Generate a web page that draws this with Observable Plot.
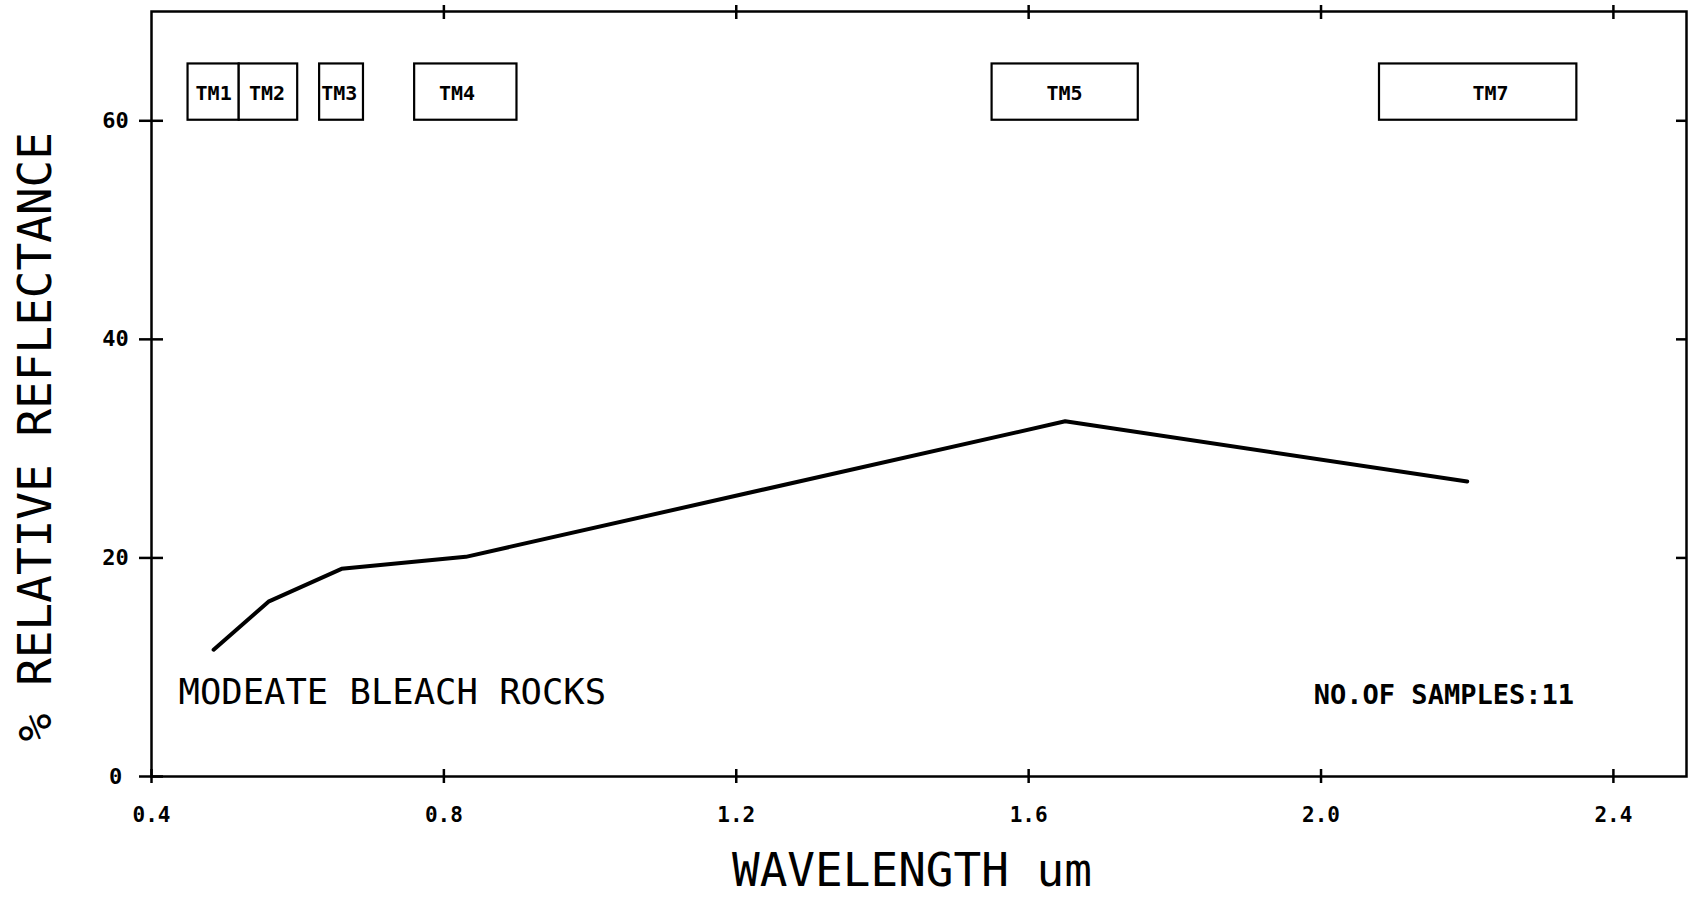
<!DOCTYPE html>
<html><head><meta charset="utf-8">
<script src="https://cdn.jsdelivr.net/npm/d3@7"></script>
<script src="https://cdn.jsdelivr.net/npm/@observablehq/plot@0.6"></script>
<style>html,body{margin:0;padding:0;background:#fff;} svg{display:block}</style>
</head><body><div id="chart"></div>
<script>
// Spectrum (Landsat TM band centres, % relative reflectance)
const wavelength = [0.485, 0.56, 0.66, 0.83, 1.65, 2.2];
const reflectance = [11.6, 16.0, 19.0, 20.1, 32.5, 27.0];
// Band boxes
const bandNames = ["TM1", "TM2", "TM3", "TM4", "TM5", "TM7"];
const bandStart = [0.45, 0.52, 0.63, 0.76, 1.55, 2.08];
const bandEnd = [0.52, 0.60, 0.69, 0.90, 1.75, 2.35];
const bandLabelX = [0.485, 0.558, 0.657, 0.818, 1.649, 2.232];
const boxBottom = 60.05, boxTop = 65.2, bandLabelY = 62.5;
// Axes
const xTicks = [0.4, 0.8, 1.2, 1.6, 2.0, 2.4];
const xTickLabels = ["0.4", "0.8", "1.2", "1.6", "2.0", "2.4"];
const yTicks = [0, 20, 40, 60];
const yTickLabels = ["0", "20", "40", "60"];
const xDomain = [0.4, 2.5];
const yDomain = [0, 70];
// Texts
const sampleName = "MODEATE BLEACH ROCKS";
const sampleCount = "NO.OF SAMPLES:11";
const xTitle = "WAVELENGTH um";
const yTitle = "% RELATIVE REFLECTANCE";

const spectrum = wavelength.map((w, i) => ({w, r: reflectance[i]}));
const bands = bandNames.map((name, i) => ({name, x1: bandStart[i], x2: bandEnd[i], lx: bandLabelX[i]}));
const FONT = "DejaVu Sans Mono";
const xFmt = d => xTickLabels[xTicks.indexOf(d)];
const yFmt = d => yTickLabels[yTicks.indexOf(d)];

const chart = Plot.plot({
  width: 1689,
  height: 898,
  marginLeft: 151,
  marginRight: 3,
  marginTop: 11,
  marginBottom: 122,
  style: {fontFamily: FONT, color: "black", background: "white"},
  x: {domain: xDomain},
  y: {domain: yDomain},
  marks: [
    Plot.frame({stroke: "black", strokeWidth: 2.5}),
    // bottom axis: crossing ticks
    Plot.axisX(xTicks, {anchor: "bottom", tickSize: 7, tickPadding: 24, tickFormat: xFmt, fontSize: 21, fontWeight: "bold", label: null, strokeWidth: 2.5}),
    Plot.axisX(xTicks, {anchor: "bottom", tickSize: -7, tickFormat: () => "", label: null, strokeWidth: 2.5}),
    // top axis: crossing ticks
    Plot.axisX(xTicks.slice(1), {anchor: "top", tickSize: 7, tickFormat: () => "", label: null, strokeWidth: 2.5}),
    Plot.axisX(xTicks.slice(1), {anchor: "top", tickSize: -7, tickFormat: () => "", label: null, strokeWidth: 2.5}),
    // left axis
    Plot.axisY(yTicks, {anchor: "left", tickSize: 12, tickPadding: 24, textAnchor: "middle", tickFormat: yFmt, fontSize: 22, fontWeight: "bold", label: null, strokeWidth: 2.5}),
    Plot.axisY(yTicks, {anchor: "left", tickSize: -12, tickFormat: () => "", label: null, strokeWidth: 2.5}),
    // right axis (inward ticks)
    Plot.axisY(yTicks.slice(1), {anchor: "right", tickSize: -11, tickFormat: () => "", label: null, strokeWidth: 2.5}),
    // band boxes
    Plot.rect(bands, {x1: "x1", x2: "x2", y1: () => boxBottom, y2: () => boxTop, fill: "white", stroke: "black", strokeWidth: 2.2}),
    Plot.text(bands, {x: "lx", y: () => bandLabelY, text: "name", fontSize: 20, fontWeight: "bold", fontFamily: FONT}),
    // spectrum line
    Plot.line(spectrum, {x: "w", y: "r", stroke: "black", strokeWidth: 4, strokeLinejoin: "miter"}),
    // annotations
    Plot.text([sampleName], {x: () => 0.437, y: () => 7.65, text: d => d, textAnchor: "start", fontSize: 35.5, fontFamily: FONT}),
    Plot.text([sampleCount], {x: () => 2.346, y: () => 7.4, text: d => d, textAnchor: "end", fontSize: 27, fontWeight: "bold", fontFamily: FONT}),
    // axis titles
    Plot.text([xTitle], {frameAnchor: "bottom", dx: -7, dy: 95, lineAnchor: "middle", text: d => d, fontSize: 46, fontFamily: FONT}),
    Plot.text([yTitle], {frameAnchor: "left", y: () => 31.1, dx: -115, rotate: -90, textAnchor: "middle", lineAnchor: "middle", text: d => d, fontSize: 46, fontFamily: FONT})
  ]
});
document.getElementById("chart").appendChild(chart);
</script>
</body></html>
